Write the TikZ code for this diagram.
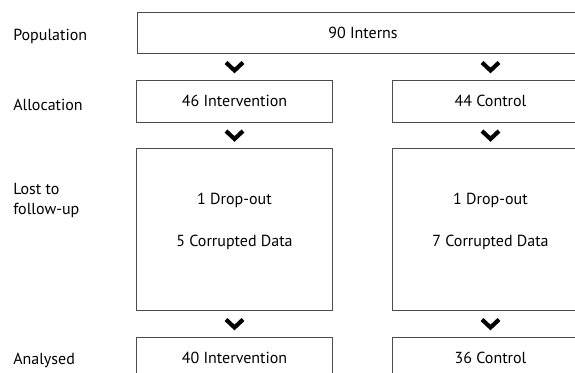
\documentclass[tikz,border=0pt]{standalone}
\usepackage{fontspec}
\setmainfont{PT Sans}
\usetikzlibrary{calc}

\begin{document}
\begin{tikzpicture}[x=0.75pt,y=0.75pt,
    box/.style={draw=black!70, line width=0.7pt, inner sep=0pt, minimum width=147pt,
      font=\fontsize{12}{14}\selectfont},
    boxtext/.style={anchor=base, inner sep=0pt, font=\fontsize{12}{14}\selectfont},
    stage/.style={anchor=base west, inner sep=0pt, align=left,
      font=\fontsize{12}{15.5}\selectfont},
    chevron/.pic={\draw[line width=3.1pt, line join=miter] (-8.5,4) -- (0,-4) -- (8.5,4);}]
    \useasboundingbox (0,0) rectangle (575,372);
    \clip (0,0) rectangle (575,372);
    % stage labels
    \node[stage] (lpop) at (13,331.3) {Population};
    \node[stage] (lalloc) at (13,261.3) {Allocation};
    \node[stage] (llost) at (13,157) {Lost to\\follow-up};
    \node[stage] (lanal) at (13,8) {Analysed};
    % population
    \node[box, minimum width=339pt, minimum height=30.75pt] (pop) at (363,339.5) {90 Interns};
    % allocation
    \node[box, minimum height=31.5pt] (alloci) at (234.5,271) {46 Intervention};
    \node[box, minimum height=31.5pt] (allocc) at (490.5,271) {44 Control};
    % lost to follow-up
    \node[box, minimum height=121.5pt] (losti) at (234.5,143) {};
    \node[box, minimum height=121.5pt] (lostc) at (490.5,143) {};
    \node[boxtext] (dropi) at ($(losti.center)+(0,24)$) {1 Drop-out};
    \node[boxtext] (corri) at ($(losti.center)+(0,-17.7)$) {5 Corrupted Data};
    \node[boxtext] (dropc) at ($(lostc.center)+(0,24)$) {1 Drop-out};
    \node[boxtext] (corrc) at ($(lostc.center)+(0,-17.7)$) {7 Corrupted Data};
    % analysed
    \node[box, minimum height=30.75pt] (anali) at (234.5,14.5) {40 Intervention};
    \node[box, minimum height=30.75pt] (analc) at (490.5,14.5) {36 Control};
    % chevrons
    \pic at ($(alloci.north |- pop.south)!0.5!(alloci.north)$) {chevron};
    \pic at ($(allocc.north |- pop.south)!0.5!(allocc.north)$) {chevron};
    \pic at ($(alloci.south)!0.5!(losti.north)$) {chevron};
    \pic at ($(allocc.south)!0.5!(lostc.north)$) {chevron};
    \pic at ($(losti.south)!0.5!(anali.north)$) {chevron};
    \pic at ($(lostc.south)!0.5!(analc.north)$) {chevron};
\end{tikzpicture}
\end{document}
